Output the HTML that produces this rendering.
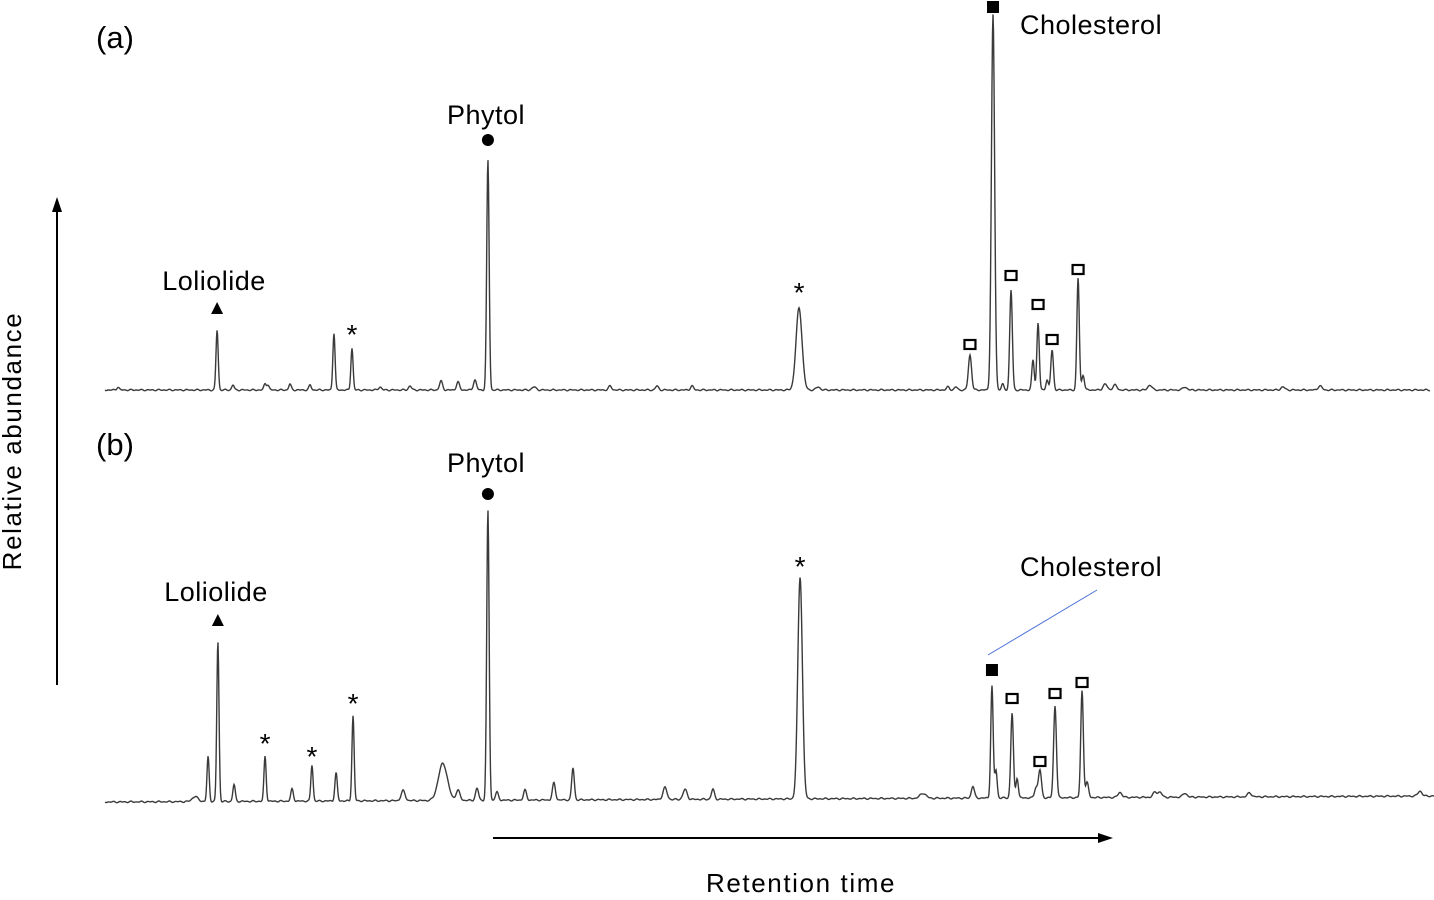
<!DOCTYPE html>
<html><head><meta charset="utf-8"><style>
body{margin:0;background:#fff}
svg text{font-family:"Liberation Sans",Arial,sans-serif;fill:#000}
</style></head><body>
<svg width="1434" height="895" viewBox="0 0 1434 895">
<g id="traces"></g>
<g id="marks"></g>
<text x="96" y="48" font-size="31">(a)</text>
<text x="96" y="455" font-size="31">(b)</text>
<text x="486" y="124" font-size="27" text-anchor="middle" letter-spacing="0.5">Phytol</text>
<text x="214" y="290" font-size="27" text-anchor="middle" letter-spacing="0.5">Loliolide</text>
<text x="1020" y="34" font-size="27" letter-spacing="0.5">Cholesterol</text>
<text x="486" y="472" font-size="27" text-anchor="middle" letter-spacing="0.5">Phytol</text>
<text x="216" y="601" font-size="27" text-anchor="middle" letter-spacing="0.5">Loliolide</text>
<text x="1020" y="576" font-size="27" letter-spacing="0.5">Cholesterol</text>
<line x1="988" y1="655" x2="1097" y2="590" stroke="#4a6fd8" stroke-width="1"/>
<line x1="57" y1="685" x2="57" y2="210" stroke="#000" stroke-width="2"/>
<polygon points="57,197 52,212 62,212" fill="#000"/>
<text transform="translate(21,441) rotate(-90)" font-size="26" letter-spacing="1.6" text-anchor="middle" fill="#222">Relative abundance</text>
<line x1="493" y1="838" x2="1100" y2="838" stroke="#000" stroke-width="2"/>
<polygon points="1113,838 1098,833 1098,843" fill="#000"/>
<text x="801" y="892" font-size="26" letter-spacing="1.6" text-anchor="middle" fill="#222">Retention time</text>
</svg>
<script>
// retention (min) and heights (relative abundance units)
const peaksA_t = [0.49,4.23,4.83,6.04,6.15,6.98,7.74,8.64,9.32,10.38,11.51,12.68,13.32,13.96,14.45,16.19,19.06,20.83,22.15,26.19,26.91,31.81,32.11,32.64,33.51,33.87,34.19,35.02,35.55,35.21,35.74,36.72,36.91,37.74,38.11,39.43,40.75,44.45,45.85];
const peaksA_h = [3,60,5,6,5,6,5,57,42,3,4,9,8,10,230,3,4,4,4,82,3,3,3,35,375,6,100,30,10,67,40,112,15,6,5,5,3,3,4];
const peaksA_w = [1.2,1.1,1.2,1.2,1.2,1.2,1.2,1.1,1.1,1.5,1.5,1.5,1.5,1.5,1.2,2,1.5,1.5,1.5,3,2,1.5,1.5,1.6,1.6,1.2,1.3,1.2,1.2,1.2,1.3,1.2,1.3,2,2,2,2,2,2];
const peaksB_t = [3.40,3.89,4.26,4.87,6.04,7.06,7.81,8.72,9.36,11.25,12.75,13.32,14.04,14.45,14.79,15.85,16.94,17.66,21.13,21.89,22.94,26.23,30.87,32.75,33.47,33.62,34.23,34.42,35.13,35.28,35.85,36.87,37.06,38.30,39.62,39.81,40.75,43.19,49.62];
const peaksB_h = [5,45,160,17,45,12,36,28,85,10,37,10,12,290,8,10,17,32,12,10,10,222,5,12,112,28,85,20,10,28,92,107,15,5,5,5,4,4,5];
const peaksB_w = [3,1.1,1.1,1.2,1.1,1.3,1.1,1.2,1.1,2,4.5,2,1.5,1.2,1.5,1.5,1.5,1.3,2,2,1.5,2.3,3,1.5,1.2,1.2,1.3,1.2,1.5,1.5,1.4,1.3,1.5,2,2,2,2,2,2];
const baselineA = [390,390];
const baselineB = [802,796];
const T0=0, T1=50.2;
function xScale(t){return 105 + (t-T0)*26.5;}
function yScale(base,h){return base - h;}
const NS='http://www.w3.org/2000/svg';
const g=document.getElementById('traces');
function trace(ts,hs,ws,base,name,xEnd){
  let d='';
  const x0=105;
  for(let px=x0;px<=xEnd;px+=0.5){
    let v=0;
    for(let i=0;i<ts.length;i++){
      const c=xScale(ts[i]);const s=ws[i];
      const dx=px-c; if(Math.abs(dx)>6*s) continue;
      v+=hs[i]*Math.exp(-dx*dx/(2*s*s));
    }
    v+=0.8*Math.sin(px*0.9)*Math.sin(px*0.23);
    const b=base[0]+(base[1]-base[0])*(px-x0)/(xEnd-x0);
    d+=(d?'L':'M')+px.toFixed(1)+','+yScale(b,v).toFixed(1);
  }
  const p=document.createElementNS(NS,'path');
  p.setAttribute('d',d);p.setAttribute('fill','none');p.setAttribute('stroke','#3a3a3a');p.setAttribute('stroke-width','1.4');
  
  
  g.appendChild(p);
}
trace(peaksA_t,peaksA_h,peaksA_w,baselineA,'trace-a',1430);
trace(peaksB_t,peaksB_h,peaksB_w,baselineB,'trace-b',1434);

// annotations: [peak index, type, offset above top]
const annA = [[1,'tri',16],[8,'star',14],[14,'circ',14],[19,'star',16],[23,'osq',4],[24,'fsq',2],[26,'osq',8],[29,'osq',12],[30,'osq',4],[31,'osq',2]];
const annB = [[2,'tri',16],[4,'star',14],[6,'star',10],[8,'star',14],[13,'circ',12],[21,'star',14],[24,'fsq',14],[26,'osq',12],[29,'osq',6],[30,'osq',10],[31,'osq',6]];
const mg=document.getElementById('marks');
function mark(ts,hs,base,ann,name){
  ann.forEach(a=>{
    const i=a[0];const x=xScale(ts[i]);const y=yScale(base[0],hs[i])-a[2];
    let el;
    if(a[1]==='tri'){el=document.createElementNS(NS,'polygon');el.setAttribute('points',`${x},${y-12} ${x-6},${y} ${x+6},${y}`);}
    else if(a[1]==='circ'){el=document.createElementNS(NS,'circle');el.setAttribute('cx',x);el.setAttribute('cy',y-6);el.setAttribute('r',6);}
    else if(a[1]==='fsq'){el=document.createElementNS(NS,'rect');el.setAttribute('x',x-6);el.setAttribute('y',y-12);el.setAttribute('width',12);el.setAttribute('height',12);}
    else if(a[1]==='osq'){el=document.createElementNS(NS,'rect');el.setAttribute('x',x-5.5);el.setAttribute('y',y-11);el.setAttribute('width',11);el.setAttribute('height',9);el.setAttribute('fill','none');el.setAttribute('stroke','#000');el.setAttribute('stroke-width','2.2');}
    else {el=document.createElementNS(NS,'text');el.setAttribute('x',x);el.setAttribute('y',y+10);el.setAttribute('font-size','28');el.setAttribute('text-anchor','middle');el.textContent='*';}
    
    
    mg.appendChild(el);
  });
}
mark(peaksA_t,peaksA_h,baselineA,annA,'marker-a');
mark(peaksB_t,peaksB_h,baselineB,annB,'marker-b');
</script>
</body></html>
